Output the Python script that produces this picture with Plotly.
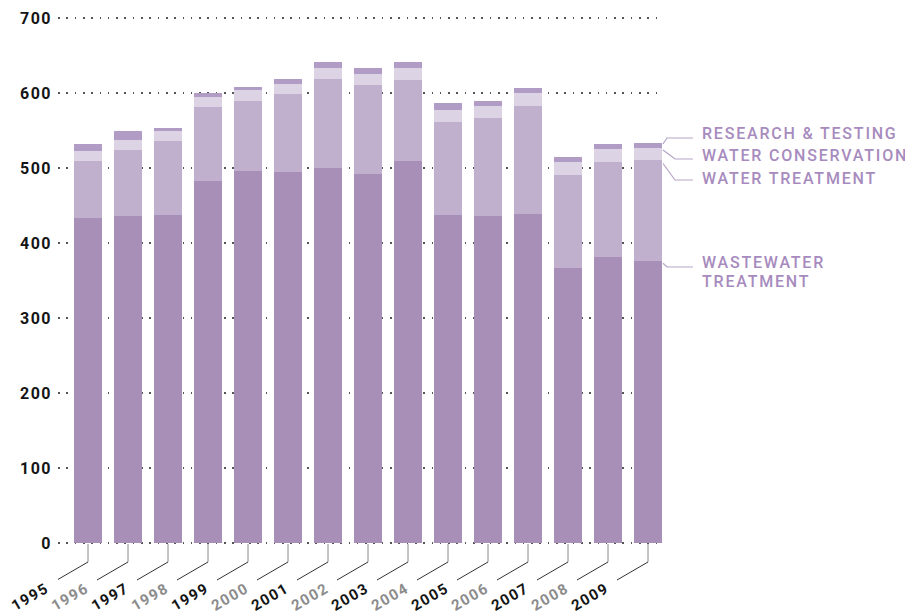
import plotly.graph_objects as go

years = ["1995", "1996", "1997", "1998", "1999", "2000", "2001", "2002",
         "2003", "2004", "2005", "2006", "2007", "2008", "2009"]
wastewater = [433, 436, 437, 483, 496, 495, 500, 492, 509, 437, 436, 439, 367, 381, 376]
water_treatment = [77, 88, 99, 99, 93, 104, 119, 119, 108, 125, 131, 144, 124, 127, 135]
water_conservation = [13, 13, 13, 13, 15, 13, 15, 15, 16, 16, 16, 17, 17, 17, 16]
research_testing = [9, 12, 5, 5, 4, 7, 7, 7, 8, 9, 7, 7, 7, 7, 7]
y_ticks = [0, 100, 200, 300, 400, 500, 600, 700]

series = [
    ("Wastewater treatment", wastewater, "#A78FB8"),
    ("Water treatment", water_treatment, "#C0B0CE"),
    ("Water conservation", water_conservation, "#DCD3E4"),
    ("Research & testing", research_testing, "#B09CC4"),
]

# page has an 8px body margin; figure is sized to fill the rest of the window
OFF = 8
W, H = 913 - OFF, 615 - OFF
# value 0 at page y 543, value 700 at page y 18; pad the range so edge gridlines show
PAD_U = 4
UNIT = 525 / 700.0
PL, PR = 58, 663
PT, PB = 18 - PAD_U * UNIT, 543 + PAD_U * UNIT
ML, MR, MT, MB = PL - OFF, W - (PR - OFF), PT - OFF, H - (PB - OFF)
PW, PH = PR - PL, PB - PT
XMIN = -0.75
XMAX = XMIN + PW / 40.0


def py(ypx):
    return (PB - ypx) / PH


def px(xpx):
    return (xpx - PL) / PW


fig = go.Figure()
for name, vals, col in series:
    fig.add_trace(go.Bar(x=years, y=vals, name=name, marker=dict(color=col, line=dict(width=0)),
                         width=0.7))

shapes = []
annotations = []
font_num = "Roboto, 'DejaVu Sans', sans-serif"
for i, yr in enumerate(years):
    shapes.append(dict(type="line", xref="x", yref="paper", x0=i, x1=i,
                       y0=py(544), y1=py(562), line=dict(color="#8a8a8a", width=1)))
    shapes.append(dict(type="line", xref="x", yref="paper", x0=i, x1=i - 31 / 40,
                       y0=py(562), y1=py(580), line=dict(color="#333333", width=1)))
    col = "#151515" if i % 2 == 0 else "#8c8c8c"
    annotations.append(dict(xref="x", yref="paper", x=i, y=py(597), xshift=-58,
                            text='<span style="letter-spacing:1.4px">%s</span>' % yr,
                            showarrow=False, textangle=-30, xanchor="center", yanchor="middle",
                            borderpad=0,
                            font=dict(family=font_num, size=15, color=col, weight="bold")))

# right-side labels with connector lines
lab_col = "#A78BBE"
line_col = "#B6A3C8"
tops = []
acc = 0
for _, vals, _ in series:
    acc += vals[-1]
    tops.append(acc)
connectors = [
    (tops[0] - 3, 267, 667),
    (tops[1] - 5, 180, 675),
    (tops[2] - 3, 159, 675),
    (tops[3] - 2, 138, 667),
]
label_texts = [
    ("WASTEWATER", 262.5),
    ("TREATMENT", 281),
    ("WATER TREATMENT", 178),
    ("WATER CONSERVATION", 155.5),
    ("RESEARCH &amp; TESTING", 133.5),
]
x_bar = px(663)
for yv, yline, xmid in connectors:
    ystart_px = 543 - yv * UNIT
    shapes.append(dict(type="path", xref="paper", yref="paper",
                       path="M %f,%f L %f,%f L %f,%f" % (x_bar, py(ystart_px), px(xmid), py(yline),
                                                         px(693), py(yline)),
                       line=dict(color=line_col, width=1.2)))
for text, ytext in label_texts:
    annotations.append(dict(xref="paper", yref="paper", x=px(700), y=py(ytext),
                            text='<span style="letter-spacing:1.8px">%s</span>' % text,
                            showarrow=False, xanchor="left", yanchor="middle", align="left",
                            font=dict(family=font_num, size=16, color=lab_col, weight=500)))

fig.update_layout(
    width=W, height=H,
    margin=dict(l=ML, r=MR, t=MT, b=MB, autoexpand=False),
    barmode="stack",
    showlegend=False,
    plot_bgcolor="white", paper_bgcolor="white",
    shapes=shapes,
    annotations=annotations,
    xaxis=dict(type="category", range=[XMIN, XMAX], showticklabels=False, showgrid=False,
               zeroline=False, showline=False, ticks="", automargin=False),
    yaxis=dict(range=[-PAD_U, 700 + PAD_U], tickvals=y_ticks,
               ticktext=['<span style="letter-spacing:1.5px">%d</span>' % v for v in y_ticks],
               showgrid=True, gridcolor="#555555", gridwidth=1.6, griddash="1.6px,6.7px",
               zeroline=False, showline=False, ticks="", ticklabelstandoff=5, automargin=False,
               tickfont=dict(family=font_num, size=16, color="#151515", weight="bold")),
)

fig.write_html("out.html")
